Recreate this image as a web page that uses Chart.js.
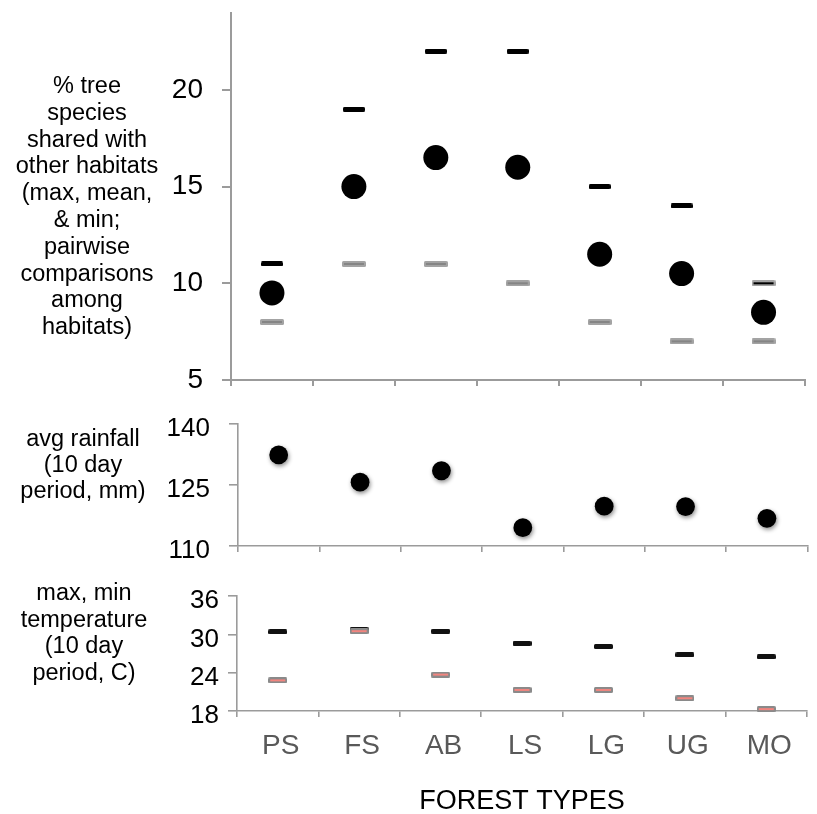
<!DOCTYPE html>
<html>
<head>
<meta charset="utf-8">
<script src="https://cdn.jsdelivr.net/npm/chart.js@4.4.1/dist/chart.umd.min.js"></script>
<style>
  html, body { margin: 0; padding: 0; background: #fff; overflow: hidden; }
  body { width: 817px; height: 814px; position: relative; font-family: "Liberation Sans", Arial, sans-serif; }
  canvas { position: absolute; left: 0; }
  .lbl { position: absolute; left: 0; text-align: center; font-size: 23.5px; color: #000; z-index: 2; }
</style>
</head>
<body>
<canvas id="shared" width="817" height="400" style="top:0"></canvas>
<canvas id="rain" width="817" height="165" style="top:400px"></canvas>
<canvas id="temp" width="817" height="255" style="top:565px"></canvas>

<div class="lbl" style="top:72px;width:174px;line-height:26.8px">% tree<br>species<br>shared with<br>other habitats<br>(max, mean,<br>&amp; min;<br>pairwise<br>comparisons<br>among<br>habitats)</div>
<div class="lbl" style="top:425px;width:166px;line-height:26px">avg rainfall<br>(10 day<br>period, mm)</div>
<div class="lbl" style="top:579px;width:168px;line-height:26.7px">max, min<br>temperature<br>(10 day<br>period, C)</div>

<script>
// forest types
const categories = ['PS', 'FS', 'AB', 'LS', 'LG', 'UG', 'MO'];

// % tree species shared with other habitats
const sharedMax  = [11, 19, 22, 22, 15, 14, 10];
const sharedMean = [9.5, 15, 16.5, 16, 11.5, 10.5, 8.5];
const sharedMin  = [8, 11, 11, 10, 8, 7, 7];

// avg rainfall, 10 day period (mm)
const rainfall = [132.4, 125.7, 128.5, 114.5, 119.8, 119.7, 116.8];

// max / min temperature, 10 day period (C)
const tempMax = [30.4, 30.7, 30.5, 28.6, 28.1, 26.8, 26.5];
const tempMin = [22.8, 30.5, 23.7, 21.3, 21.3, 20.0, 18.3];

// y tick labels
const sharedTicks = [5, 10, 15, 20];
const rainTicks = [110, 125, 140];
const tempTicks = [18, 24, 30, 36];

const axisColor = '#9b9b9b';
Chart.defaults.font.family = '"Liberation Sans", Arial, sans-serif';

// small canvases used as point markers (dashes)
function dash(w, h, outer, inner, iw, ih) {
    const c = document.createElement('canvas');
    c.width = w; c.height = h;
    const g = c.getContext('2d');
    g.fillStyle = outer;
    g.beginPath();
    if (g.roundRect) g.roundRect(0, 0, w, h, 1.5); else g.rect(0, 0, w, h);
    g.fill();
    if (inner) {
        g.fillStyle = inner;
        g.fillRect((w - iw) / 2, (h - ih) / 2, iw, ih);
    }
    return c;
}

const blackDash = dash(22, 5, '#000');
const grayDash = dash(24, 6, '#a3a3a3', '#858585', 20, 2);
const grayBlackDash = dash(24, 6, '#a3a3a3', '#000', 20, 2);
const tMaxDash = dash(19, 5, '#111');
const tMinDash = dash(19, 6, '#8a8a8a', '#f2857f', 15, 2);

const shadow = {
    id: 'shadow',
    beforeDatasetDraw(chart) {
        const c = chart.ctx;
        c.save();
        c.shadowColor = 'rgba(0,0,0,0.45)';
        c.shadowBlur = 4;
        c.shadowOffsetX = 1;
        c.shadowOffsetY = 2;
    },
    afterDatasetDraw(chart) {
        chart.ctx.restore();
    }
};

function xAxis(height, lw, showLabels) {
    return {
        type: 'category',
        offset: true,
        grid: { offset: true, drawOnChartArea: false, drawTicks: true, tickLength: 6, color: axisColor, lineWidth: lw },
        border: { display: true, color: axisColor, width: lw },
        ticks: {
            display: showLabels,
            color: '#595959',
            font: { size: 28 },
            padding: 12,
            labelOffset: 3,
            maxRotation: 0,
            autoSkip: false
        },
        title: {
            display: showLabels,
            text: 'FOREST TYPES',
            color: '#000',
            font: { size: 27 },
            padding: { top: 0, bottom: 2 }
        },
        afterFit: s => { s.height = height; s.paddingLeft = 0; s.paddingRight = 0; }
    };
}

function yAxis(width, min, max, tickList, size, pad, offset, lw) {
    return {
        min: min,
        max: max,
        grid: { drawOnChartArea: false, drawTicks: true, tickLength: 9, color: axisColor, lineWidth: lw },
        border: { display: true, color: axisColor, width: lw },
        ticks: { color: '#000', font: { size: size }, padding: pad, labelOffset: offset },
        afterBuildTicks: s => { s.ticks = tickList.map(v => ({ value: v })); },
        afterFit: s => { s.width = width; s.paddingTop = 0; s.paddingBottom = 0; }
    };
}

function baseOptions(pad, x, y) {
    return {
        responsive: false,
        animation: false,
        layout: { padding: pad },
        plugins: { legend: { display: false }, tooltip: { enabled: false } },
        scales: { x: x, y: y }
    };
}

function points(data, style, radius, color) {
    return {
        data: data,
        showLine: false,
        clip: false,
        pointStyle: style,
        pointRadius: radius,
        pointBackgroundColor: color || '#000',
        pointBorderWidth: 0,
        pointHoverRadius: radius
    };
}

new Chart(document.getElementById('shared'), {
    type: 'line',
    data: {
        labels: categories,
        datasets: [
            points(sharedMean, 'circle', 12.5),
            points(sharedMax, sharedMax.map((v, i) => i === 6 ? grayBlackDash : blackDash), 12),
            points(sharedMin, grayDash, 12)
        ]
    },
    options: baseOptions({ top: 7, right: 7, left: 0, bottom: 0 },
        xAxis(20, 2, false),
        yAxis(231, 5, 24, sharedTicks, 28, 19, 0, 2))
});

new Chart(document.getElementById('rain'), {
    type: 'line',
    data: {
        labels: categories,
        datasets: [points(rainfall, 'circle', 9.4)]
    },
    options: baseOptions({ top: 24, right: 0, left: 0, bottom: 0 },
        xAxis(19, 1.6, false),
        yAxis(238, 110, 140, rainTicks, 26, 19, 5, 1.6)),
    plugins: [shadow]
});

new Chart(document.getElementById('temp'), {
    type: 'line',
    data: {
        labels: categories,
        datasets: [
            points(tempMin, tMinDash, 10),
            points(tempMax, tMaxDash, 10)
        ]
    },
    options: baseOptions({ top: 31, right: 3, left: 0, bottom: 0 },
        xAxis(109, 1.6, true),
        yAxis(237, 18, 36, tempTicks, 26, 9, 5, 1.6))
});
</script>
</body>
</html>
